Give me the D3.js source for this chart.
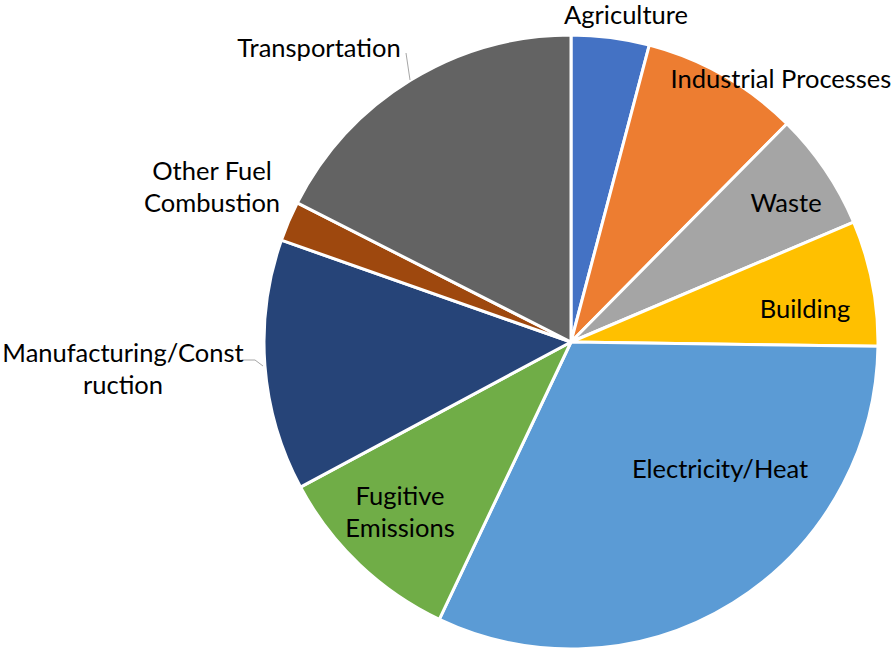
<!DOCTYPE html>
<html>
<head>
<meta charset="utf-8">
<script src="https://cdn.jsdelivr.net/npm/d3@7"></script>
<style>
  body { margin: 0; background: #fff; }
  text { font-family: Lato, "Open Sans", sans-serif; font-size: 25.5px; fill: #000; }
</style>
</head>
<body>
<div id="chart"></div>
<script>
// sectors, clockwise from 12 o'clock
var sectors = ["Agriculture", "Industrial Processes", "Waste", "Building", "Electricity/Heat",
               "Fugitive Emissions", "Manufacturing/Construction", "Other Fuel Combustion", "Transportation"];
var shares = [4.1, 8.3, 6.2, 6.6, 31.8, 10.1, 13.2, 2.1, 17.5];
var colors = ["#4472C4", "#ED7D31", "#A5A5A5", "#FFC000", "#5B9BD5",
              "#70AD47", "#264478", "#9E480E", "#636363"];

// label text lines (as shown in the chart)
var labelLines = [["Agriculture"], ["Industrial Processes"], ["Waste"], ["Building"], ["Electricity/Heat"],
                  ["Fugitive", "Emissions"], ["Manufacturing/Const", "ruction"], ["Other Fuel", "Combustion"], ["Transportation"]];

var width = 894, height = 651;
var cx = 571, cy = 342, radius = 307;

// label anchor (center x, first baseline y), relative to pie center
var labelPos = [[55, -318], [210, -254], [215, -130], [234, -24], [149, 136],
                [-171, 163], [-448, 20], [-359, -162], [-252, -285]];
// leader lines (only for the labels sitting outside)
var leaders = {
  8: [[-165, -289], [-161, -262]],
  6: [[-328, 18], [-316, 18], [-308, 24]]
};

var svg = d3.select("#chart").append("svg")
    .attr("width", width)
    .attr("height", height);

var g = svg.append("g")
    .attr("transform", "translate(" + cx + "," + cy + ")");

var pie = d3.pie().sort(null).value(function(d) { return d; });
var arc = d3.arc().innerRadius(0).outerRadius(radius);

var arcs = pie(shares);

g.selectAll("path.slice")
  .data(arcs)
  .enter().append("path")
    .attr("class", "slice")
    .attr("d", arc)
    .style("fill", function(d, i) { return colors[i]; })
    .style("stroke", "#fff")
    .style("stroke-width", 3)
    .style("stroke-linejoin", "round");

// leader lines
Object.keys(leaders).forEach(function(k) {
  g.append("path")
    .attr("d", d3.line()(leaders[k]))
    .style("fill", "none")
    .style("stroke", "#A6A6A6")
    .style("stroke-width", 1);
});

// labels
var lbl = g.selectAll("text.lbl")
  .data(sectors)
  .enter().append("text")
    .attr("class", "lbl")
    .attr("text-anchor", "middle")
    .attr("x", function(d, i) { return labelPos[i][0]; })
    .attr("y", function(d, i) { return labelPos[i][1]; });

lbl.each(function(d, i) {
  var t = d3.select(this);
  labelLines[i].forEach(function(line, j) {
    t.append("tspan")
      .attr("x", labelPos[i][0])
      .attr("dy", j === 0 ? 0 : 32)
      .text(line);
  });
});
</script>
</body>
</html>
